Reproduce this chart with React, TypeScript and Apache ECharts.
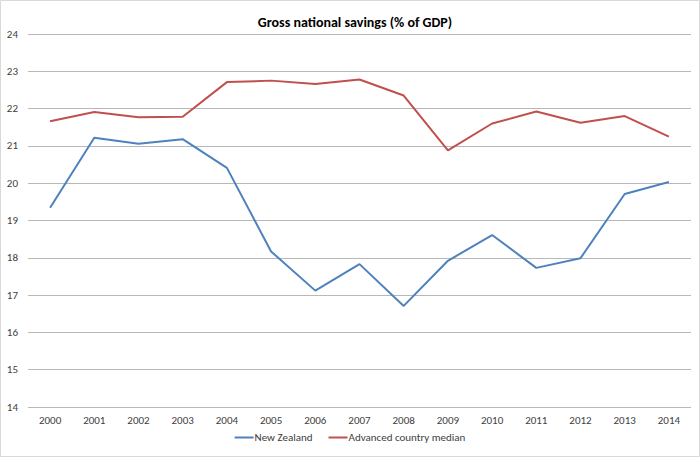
import React, { useEffect, useRef } from "react";
import * as echarts from "echarts";

const years = ["2000","2001","2002","2003","2004","2005","2006","2007","2008","2009","2010","2011","2012","2013","2014"];
const newZealand = [19.34, 21.22, 21.06, 21.18, 20.41, 18.17, 17.12, 17.83, 16.71, 17.92, 18.61, 17.73, 17.99, 19.71, 20.03];
const advancedMedian = [21.66, 21.91, 21.77, 21.78, 22.71, 22.75, 22.66, 22.78, 22.35, 20.88, 21.60, 21.92, 21.62, 21.80, 21.25];
const seriesNames = ["New Zealand", "Advanced country median"];
const titleText = "Gross national savings (% of GDP)";

export default function App() {
  const ref = useRef<HTMLDivElement>(null);
  useEffect(() => {
    const chart = echarts.init(ref.current!, null, { renderer: "svg" });
    const font = "Carlito, 'Open Sans', 'Liberation Sans', sans-serif";
    chart.setOption({
      animation: false,
      backgroundColor: "#ffffff",
      title: {
        text: titleText,
        left: 350,
        textAlign: "center",
        top: 10,
        textStyle: { fontSize: 14, fontWeight: "bold", color: "#000", fontFamily: font },
      },
      grid: { left: 28, right: 9, top: 34, bottom: 50, containLabel: false },
      legend: {
        bottom: 9,
        left: "center",
        itemWidth: 19,
        itemHeight: 2,
        itemGap: 16,
        icon: "rect",
        textStyle: { fontSize: 11, color: "#404040", fontFamily: font, padding: [0, 0, 0, -4] },
        data: seriesNames,
      },
      xAxis: {
        type: "category",
        data: years,
        boundaryGap: true,
        axisLine: { show: false },
        axisTick: { show: false },
        axisLabel: { fontSize: 11, color: "#404040", fontFamily: font, margin: 8 },
      },
      yAxis: {
        type: "value",
        min: 14,
        max: 24,
        interval: 1,
        axisLine: { show: false },
        axisTick: { show: false },
        axisLabel: { fontSize: 11, color: "#404040", fontFamily: font, margin: 10 },
        splitLine: { lineStyle: { color: "#b8b8b8", width: 1 } },
      },
      series: [
        {
          name: seriesNames[0],
          type: "line",
          data: newZealand,
          symbol: "none",
          lineStyle: { color: "#4F81BD", width: 2 },
          itemStyle: { color: "#4F81BD" },
        },
        {
          name: seriesNames[1],
          type: "line",
          data: advancedMedian,
          symbol: "none",
          lineStyle: { color: "#C0504D", width: 2 },
          itemStyle: { color: "#C0504D" },
        },
      ],
      graphic: [
        {
          type: "rect",
          shape: { x: 0.5, y: 0.5, width: 699, height: 456 },
          style: { fill: "none", stroke: "#d9d9d9", lineWidth: 1 },
          silent: true,
        },
      ],
    });
    return () => chart.dispose();
  }, []);
  return (
    <div
      ref={ref}
      style={{ position: "fixed", left: 0, top: 0, width: 700, height: 457 }}
    />
  );
}
